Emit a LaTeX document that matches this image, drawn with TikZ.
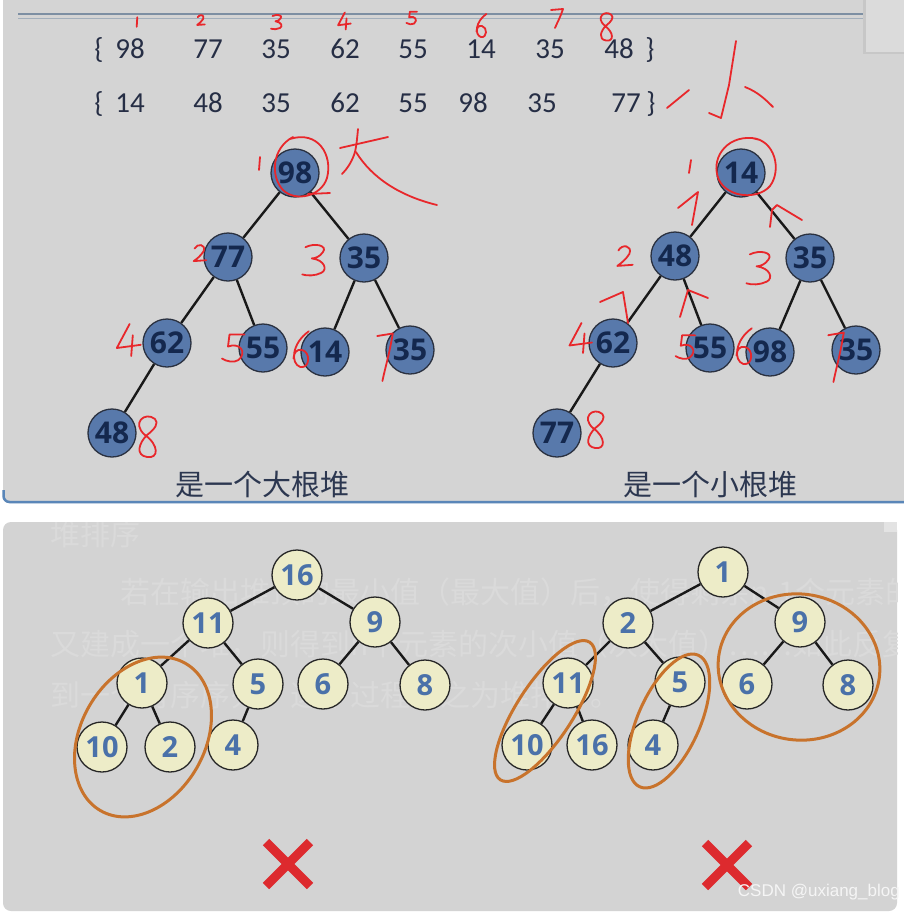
\documentclass[tikz,border=0pt]{standalone}
\usepackage{fontspec}
\setmainfont{Carlito}
\newfontfamily\cjk{Noto Sans CJK SC}
\newfontfamily\numf{Open Sans}
\newfontfamily\wmf{Liberation Sans}
\definecolor{panelA}{HTML}{D4D4D4}
\definecolor{panelB}{HTML}{D3D3D3}
\definecolor{blueline}{HTML}{5A86B8}
\definecolor{ruleA}{HTML}{7D8FA3}
\definecolor{ruleB}{HTML}{A3AFBC}
\definecolor{txtdark}{HTML}{262E45}
\definecolor{nodeblue}{HTML}{5879AB}
\definecolor{nodeborder}{HTML}{2A3140}
\definecolor{nodetext}{HTML}{14284E}
\definecolor{yfill}{HTML}{EDECC8}
\definecolor{ytext}{HTML}{4A71A9}
\definecolor{orangec}{HTML}{C8732C}
\definecolor{penred}{HTML}{E8272B}
\definecolor{xred}{HTML}{DD2A2E}
\definecolor{faint}{HTML}{DADADA}
\definecolor{captionc}{HTML}{2C3750}
\tikzset{
  rownum/.style={anchor=base, inner sep=0pt, text=txtdark, font=\fontsize{29}{30}\selectfont},
  bnode/.style={circle, draw=nodeborder, fill=nodeblue, line width=1.3pt, minimum size=48pt, inner sep=0pt,
    text=nodetext, font=\numf\bfseries\fontsize{30}{30}\selectfont},
  ynode/.style={circle, draw=black!85, fill=yfill, line width=1.3pt, minimum size=50pt, inner sep=0pt,
    text=ytext, font=\numf\bfseries\fontsize{29}{30}\selectfont},
  treeedge/.style={draw=black!90, line width=2.4pt},
  pen/.style={draw=penred, line width=1.8pt, line cap=round, line join=round},
  oring/.style={draw=orangec, line width=3pt},
  xmark/.style={draw=xred, line width=9pt},
  captiontext/.style={text=captionc, font=\cjk\fontsize{29}{30}\selectfont, inner sep=0pt},
  fainttext/.style={anchor=base west, inner sep=0pt, text=faint, font=\cjk\fontsize{30}{32}\selectfont},
  hw1/.pic={\draw[pen] (0.5,-8) -- (-0.5,8);},
  hw2/.pic={\draw[pen] (-6,-5) .. controls (-3,-11) and (7,-10) .. (4,-2) .. controls (1,3) and (-4,7) .. (-7,9) -- (7,8);},
  hw3/.pic={\draw[pen] (-6,-8) .. controls (0,-11) and (8,-9) .. (5,-5) .. controls (3,-2) and (0,-1) .. (-2,-1) .. controls (6,0) and (8,6) .. (4,8) .. controls (0,10) and (-5,10) .. (-8,9);},
  hw4/.pic={\draw[pen] (1,-10) -- (-7,5) -- (8,3); \draw[pen] (3,-3) -- (2,10);},
  hw5/.pic={\draw[pen] (7,-9) -- (-3,-9) -- (-4,-1) .. controls (4,-4) and (9,3) .. (3,8) .. controls (0,10) and (-5,9) .. (-8,7);},
  hw6/.pic={\draw[pen] (4,-11) .. controls (-6,-4) and (-7,8) .. (-1,10) .. controls (5,11) and (5,1) .. (0,0) .. controls (-3,-1) and (-5,2) .. (-5,5);},
  hw7/.pic={\draw[pen] (-6,-8) -- (6,-9) .. controls (3,0) and (0,5) .. (-2,10);},
  hw8/.pic={\draw[pen] (4,-9) .. controls (-1,-13) and (-8,-7) .. (-1,-1) .. controls (6,4) and (6,11) .. (0,10) .. controls (-6,9) and (-4,3) .. (0,-1) .. controls (4,-4) and (6,-7) .. (4,-9);}
}
\begin{document}
\begin{tikzpicture}[x=1pt,y=-1pt]
\useasboundingbox (0,0) rectangle (904,914);
\fill[white] (0,0) rectangle (904,914);
\begin{scope}
\clip (0,0) rectangle (904,914);
% ---------- top panel ----------
\fill[panelA, rounded corners=6pt] (3,-20) rectangle (920,503);
\draw[blueline, line width=2.5pt, rounded corners=6pt] (3.5,490) -- (3.5,502) -- (920,502);
\draw[ruleA, line width=2pt] (18,13.5) -- (865,13.5);
\draw[ruleB, line width=1.5pt] (18,18.5) -- (865,18.5);
\fill[black!22] (863,0) rectangle (904,54);
\fill[black!14] (865.5,0) rectangle (904,52);
% ---------- bottom panel ----------
\fill[panelB, rounded corners=8pt] (3,522) rectangle (897,911);
\fill[black!11] (884,522) rectangle (897,532);
\end{scope}
% faint background text
\begin{scope}
\clip (3,522) rectangle (897,911);
\node[fainttext] (f1) at (50,545) {堆排序};
\node[fainttext] (f2) at (120,603) {若在输出堆顶的最小值（最大值）后，使得剩余n-1个元素的序列重};
\node[fainttext] (f3) at (50,655) {又建成一个堆，则得到n个元素的次小值（次大值）……如此反复，便能得};
\node[fainttext] (f4) at (50,706) {到一个有序序列，这个过程称之为堆排序。};
\end{scope}
% ---------- number rows ----------
\node[rownum] (lb1) at (99,58) {\{};
\node[rownum] (r1a) at (130,58) {98};
\node[rownum] (r1b) at (208,58) {77};
\node[rownum] (r1c) at (276,58) {35};
\node[rownum] (r1d) at (345,58) {62};
\node[rownum] (r1e) at (413,58) {55};
\node[rownum] (r1f) at (481,58) {14};
\node[rownum] (r1g) at (550,58) {35};
\node[rownum] (r1h) at (619,58) {48};
\node[rownum] (rb1) at (650,58) {\}};
\node[rownum] (lb2) at (99,112) {\{};
\node[rownum] (r2a) at (130,112) {14};
\node[rownum] (r2b) at (208,112) {48};
\node[rownum] (r2c) at (276,112) {35};
\node[rownum] (r2d) at (345,112) {62};
\node[rownum] (r2e) at (413,112) {55};
\node[rownum] (r2f) at (473,112) {98};
\node[rownum] (r2g) at (542,112) {35};
\node[rownum] (r2h) at (626,112) {77};
\node[rownum] (rb2) at (651,112) {\}};
% ---------- big-root heap ----------
\node[bnode] (L1) at (295,173) {98};
\node[bnode] (L2) at (228,257) {77};
\node[bnode] (L3) at (364,258) {35};
\node[bnode] (L4) at (167,343) {62};
\node[bnode] (L5) at (263,348) {55};
\node[bnode] (L6) at (325,352) {14};
\node[bnode] (L7) at (410,350) {35};
\node[bnode] (L8) at (112,433) {48};
\draw[treeedge] (L1) -- (L2);
\draw[treeedge] (L1) -- (L3);
\draw[treeedge] (L2) -- (L4);
\draw[treeedge] (L2) -- (L5);
\draw[treeedge] (L3) -- (L6);
\draw[treeedge] (L3) -- (L7);
\draw[treeedge] (L4) -- (L8);
\node[captiontext] (cap1) at (262,484) {是一个大根堆};
% ---------- small-root heap ----------
\node[bnode] (R1) at (741,173) {14};
\node[bnode] (R2) at (675,256) {48};
\node[bnode] (R3) at (810,258) {35};
\node[bnode] (R4) at (613,343) {62};
\node[bnode] (R5) at (710,348) {55};
\node[bnode] (R6) at (770,352) {98};
\node[bnode] (R7) at (856,350) {35};
\node[bnode] (R8) at (557,433) {77};
\draw[treeedge] (R1) -- (R2);
\draw[treeedge] (R1) -- (R3);
\draw[treeedge] (R2) -- (R4);
\draw[treeedge] (R2) -- (R5);
\draw[treeedge] (R3) -- (R6);
\draw[treeedge] (R3) -- (R7);
\draw[treeedge] (R4) -- (R8);
\node[captiontext] (cap2) at (710,484) {是一个小根堆};
% ---------- bottom-left tree ----------
\node[ynode] (P16) at (297,575) {16};
\node[ynode] (P11) at (208,623) {11};
\node[ynode] (P9) at (375,622) {9};
\node[ynode] (P1) at (142,683) {1};
\node[ynode] (P5) at (258,684) {5};
\node[ynode] (P6) at (323,684) {6};
\node[ynode] (P8) at (425,685) {8};
\node[ynode] (P10) at (102,747) {10};
\node[ynode] (P2) at (170,747) {2};
\node[ynode] (P4) at (233,745) {4};
\draw[treeedge] (P16) -- (P11);
\draw[treeedge] (P16) -- (P9);
\draw[treeedge] (P11) -- (P1);
\draw[treeedge] (P11) -- (P5);
\draw[treeedge] (P9) -- (P6);
\draw[treeedge] (P9) -- (P8);
\draw[treeedge] (P1) -- (P10);
\draw[treeedge] (P1) -- (P2);
\draw[treeedge] (P5) -- (P4);
\draw[oring, rotate around={60:(143,737)}] (143,737) ellipse [x radius=85, y radius=62];
% ---------- bottom-right tree ----------
\node[ynode] (Q1) at (723,572) {1};
\node[ynode] (Q2) at (628,623) {2};
\node[ynode] (Q9) at (800,622) {9};
\node[ynode] (Q11) at (568,683) {11};
\node[ynode] (Q5) at (680,682) {5};
\node[ynode] (Q6) at (747,684) {6};
\node[ynode] (Q8) at (848,685) {8};
\node[ynode] (Q10) at (527,745) {10};
\node[ynode] (Q16) at (592,745) {16};
\node[ynode] (Q4) at (653,745) {4};
\draw[treeedge] (Q1) -- (Q2);
\draw[treeedge] (Q1) -- (Q9);
\draw[treeedge] (Q2) -- (Q11);
\draw[treeedge] (Q2) -- (Q5);
\draw[treeedge] (Q9) -- (Q6);
\draw[treeedge] (Q9) -- (Q8);
\draw[treeedge] (Q11) -- (Q10);
\draw[treeedge] (Q11) -- (Q16);
\draw[treeedge] (Q5) -- (Q4);
\draw[oring, rotate around={57:(545,711)}] (545,711) ellipse [x radius=82, y radius=28];
\draw[oring, rotate around={66:(669,721)}] (669,721) ellipse [x radius=72, y radius=31];
\draw[oring, rotate around={-8:(799,667)}] (799,667) ellipse [x radius=81, y radius=73];
% ---------- crosses ----------
\draw[xmark] (266,842) -- (310,886);
\draw[xmark] (310,842) -- (266,886);
\draw[xmark] (705,843) -- (749,887);
\draw[xmark] (749,843) -- (705,887);
\node[anchor=base east, inner sep=0pt, text=white!96!black, font=\wmf\fontsize{17}{18}\selectfont] (wm) at (900,896) {CSDN @uxiang\_blog};
% ---------- red handwriting ----------
\pic[scale=0.6] at (137,22) {hw1};
\pic[scale=0.55] at (201,20) {hw2};
\pic[scale=0.75] at (277,22) {hw3};
\pic[scale=0.85] at (344,21) {hw4};
\pic[scale=0.7] at (412,18) {hw5};
\pic[scale=1.1] at (482,26) {hw6};
\pic[scale=1.0] at (557,18) {hw7};
\pic[scale=1.35] at (606,27) {hw8};
% 小
\draw[pen] (736,41) -- (729,85) -- (721,118) -- (709,113);
\draw[pen] (689,90) -- (667,108);
\draw[pen] (745,87) .. controls (758,92) and (766,100) .. (773,107);
% left tree annotations
\draw[pen] (290,139) .. controls (318,130) and (333,155) .. (327,178) .. controls (321,197) and (295,202) .. (283,190) .. controls (270,176) and (272,148) .. (293,137);
\draw[pen] (308,194) -- (330,193);
\draw[pen] (260,157) -- (259,170);
\draw[pen] (340,148) -- (388,137);
\draw[pen] (358,129) .. controls (357,140) and (356,150) .. (354,155) .. controls (351,163) and (347,169) .. (342,174);
\draw[pen] (356,152) .. controls (372,178) and (400,196) .. (437,205);
\pic[scale=0.9] at (200,253) {hw2};
\pic[scale=1.6] at (315,260) {hw3};
\pic[scale=1.6] at (128,340) {hw4};
\pic[scale=1.5] at (234,348) {hw5};
\pic[scale=1.7] at (302,350) {hw6};
\pic[xscale=1.3, yscale=2.5] at (385,356) {hw7};
\pic[scale=2.0] at (147,437) {hw8};
% right tree annotations
\draw[pen] (752,138) .. controls (775,140) and (782,170) .. (770,186) .. controls (758,200) and (728,198) .. (719,180) .. controls (710,160) and (725,136) .. (752,138) -- (760,140);
\draw[pen] (691,160) -- (689,173);
\draw[pen] (678,208) -- (698,192) -- (692,225);
\draw[pen] (770,227) -- (772,210) -- (777,205) -- (802,220);
\draw[pen] (600,302) -- (623,292) -- (628,323);
\draw[pen] (680,317) -- (688,290) -- (708,298);
\pic[scale=1.1] at (625,256) {hw2};
\pic[scale=1.7] at (760,268) {hw3};
\pic[scale=1.5] at (580,338) {hw4};
\pic[scale=1.3] at (686,347) {hw5};
\pic[scale=1.7] at (745,347) {hw6};
\pic[xscale=1.3, yscale=2.6] at (836,356) {hw7};
\pic[scale=1.8] at (595,430) {hw8};
\end{tikzpicture}
\end{document}
